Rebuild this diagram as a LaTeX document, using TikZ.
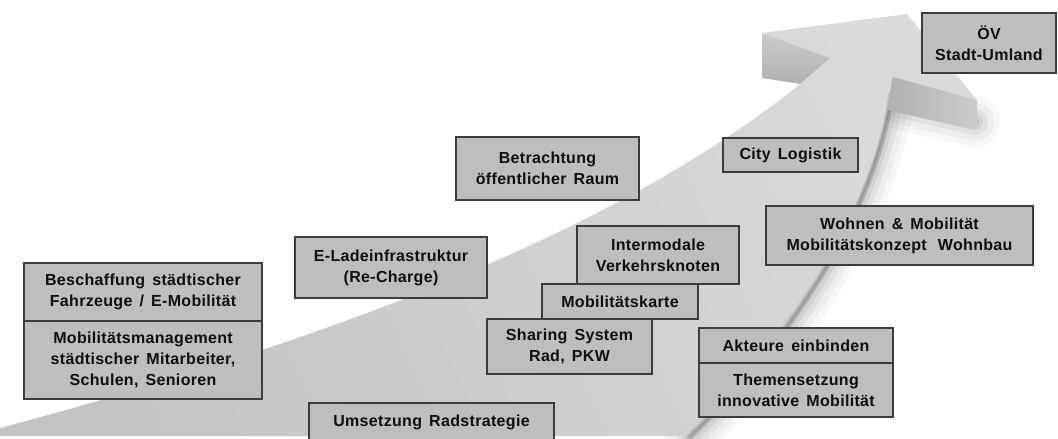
\documentclass[tikz,border=0pt]{standalone}
\usepackage{fontspec}
\setmainfont{Liberation Sans}[LetterSpace=2,WordSpace=1.5]
\usetikzlibrary{shadows}
\definecolor{boxfill}{RGB}{190,190,190}
\definecolor{boxline}{RGB}{60,60,60}
\definecolor{arrowdark}{RGB}{196,196,196}
\definecolor{arrowlight}{RGB}{218,218,218}
\definecolor{facedark}{RGB}{176,176,176}
\definecolor{facelight}{RGB}{204,204,204}
\definecolor{txt}{RGB}{15,15,15}
\tikzset{
  box/.style={draw=boxline, fill=boxfill, line width=1.2pt, align=center,
    text=txt, inner sep=0pt,
    font=\bfseries\fontsize{16}{21}\selectfont,
    drop shadow={shadow xshift=1.2pt, shadow yshift=-1.2pt, opacity=0.45, fill=black}},
  edgeshadow/.style={black, line cap=round}
}
\begin{document}
\begin{tikzpicture}[x=1pt,y=-1pt]
\useasboundingbox (0,0) rectangle (1058,439);
\clip (0,0) rectangle (1058,439);
\fill[white] (0,0) rectangle (1058,439);
% soft shadow right of the shaft
\foreach \w/\o in {50/0.03, 38/0.04, 26/0.05, 16/0.06, 8/0.08} {
  \draw[edgeshadow, opacity=\o, line width=\w pt] (893,77) .. controls (880,200) and (800,330) .. (690,436);
  \draw[edgeshadow, opacity=\o, line width=\w pt] (900,105) -- (975,122);
}
% arrow top surface
\shade[top color=arrowlight, bottom color=arrowdark, shading angle=-65]
  (0,428) .. controls (330,340) and (620,230) .. (800,84)
  -- (830,58) -- (762,33) -- (907,14) -- (977,100) -- (893,77)
  .. controls (880,200) and (800,330) .. (690,436)
  -- (0,436) -- cycle;
% dark streak along right edge
\draw[edgeshadow, opacity=0.10, line width=6pt] (891,95) .. controls (878,200) and (800,330) .. (690,436);
\draw[edgeshadow, opacity=0.12, line width=2.5pt] (893,80) .. controls (880,200) and (800,330) .. (690,436);
% barb faces
\shade[top color=facelight, bottom color=facedark] (762,33) -- (830,58) -- (800,84) -- (762,78) -- cycle;
\shade[left color=facedark, right color=facelight] (893,77) -- (977,100) -- (977,130) -- (887,110) -- cycle;

% boxes
\node[box, minimum width=238pt, minimum height=58pt] (A1) at (143,292) {Beschaffung städtischer\\Fahrzeuge / E-Mobilität};
\node[box, minimum width=238pt, minimum height=78pt] (A2) at (143,360) {Mobilitätsmanagement\\städtischer Mitarbeiter,\\Schulen, Senioren};
\node[box, minimum width=192pt, minimum height=61pt] (B) at (391,267.5) {E-Ladeinfrastruktur\\(Re-Charge)};
\node[box, minimum width=183pt, minimum height=63pt] (C) at (547.5,168.5) {Betrachtung\\öffentlicher Raum};
\node[box, minimum width=162pt, minimum height=58pt] (D) at (658,255) {Intermodale\\Verkehrsknoten};
\node[box, minimum width=156pt, minimum height=35pt] (E) at (620,301.5) {Mobilitätskarte};
\node[box, minimum width=165pt, minimum height=55pt] (F) at (569.5,346.5) {Sharing System\\Rad, PKW};
\node[box, minimum width=245pt, minimum height=38pt] (G) at (431.5,422) {Umsetzung Radstrategie};
\node[box, minimum width=135pt, minimum height=34pt] (H) at (790.5,155) {City Logistik};
\node[box, minimum width=134pt, minimum height=60pt] (I) at (989,43) {ÖV\\Stadt-Umland};
\node[box, minimum width=267pt, minimum height=59pt] (J) at (899.5,235.5) {Wohnen \& Mobilität\\Mobilitätskonzept\hspace{4pt} Wohnbau};
\node[box, minimum width=194pt, minimum height=35pt] (K1) at (796,345.5) {Akteure einbinden};
\node[box, minimum width=194pt, minimum height=54pt] (K2) at (796,390) {Themensetzung\\innovative Mobilität};
\end{tikzpicture}
\end{document}
